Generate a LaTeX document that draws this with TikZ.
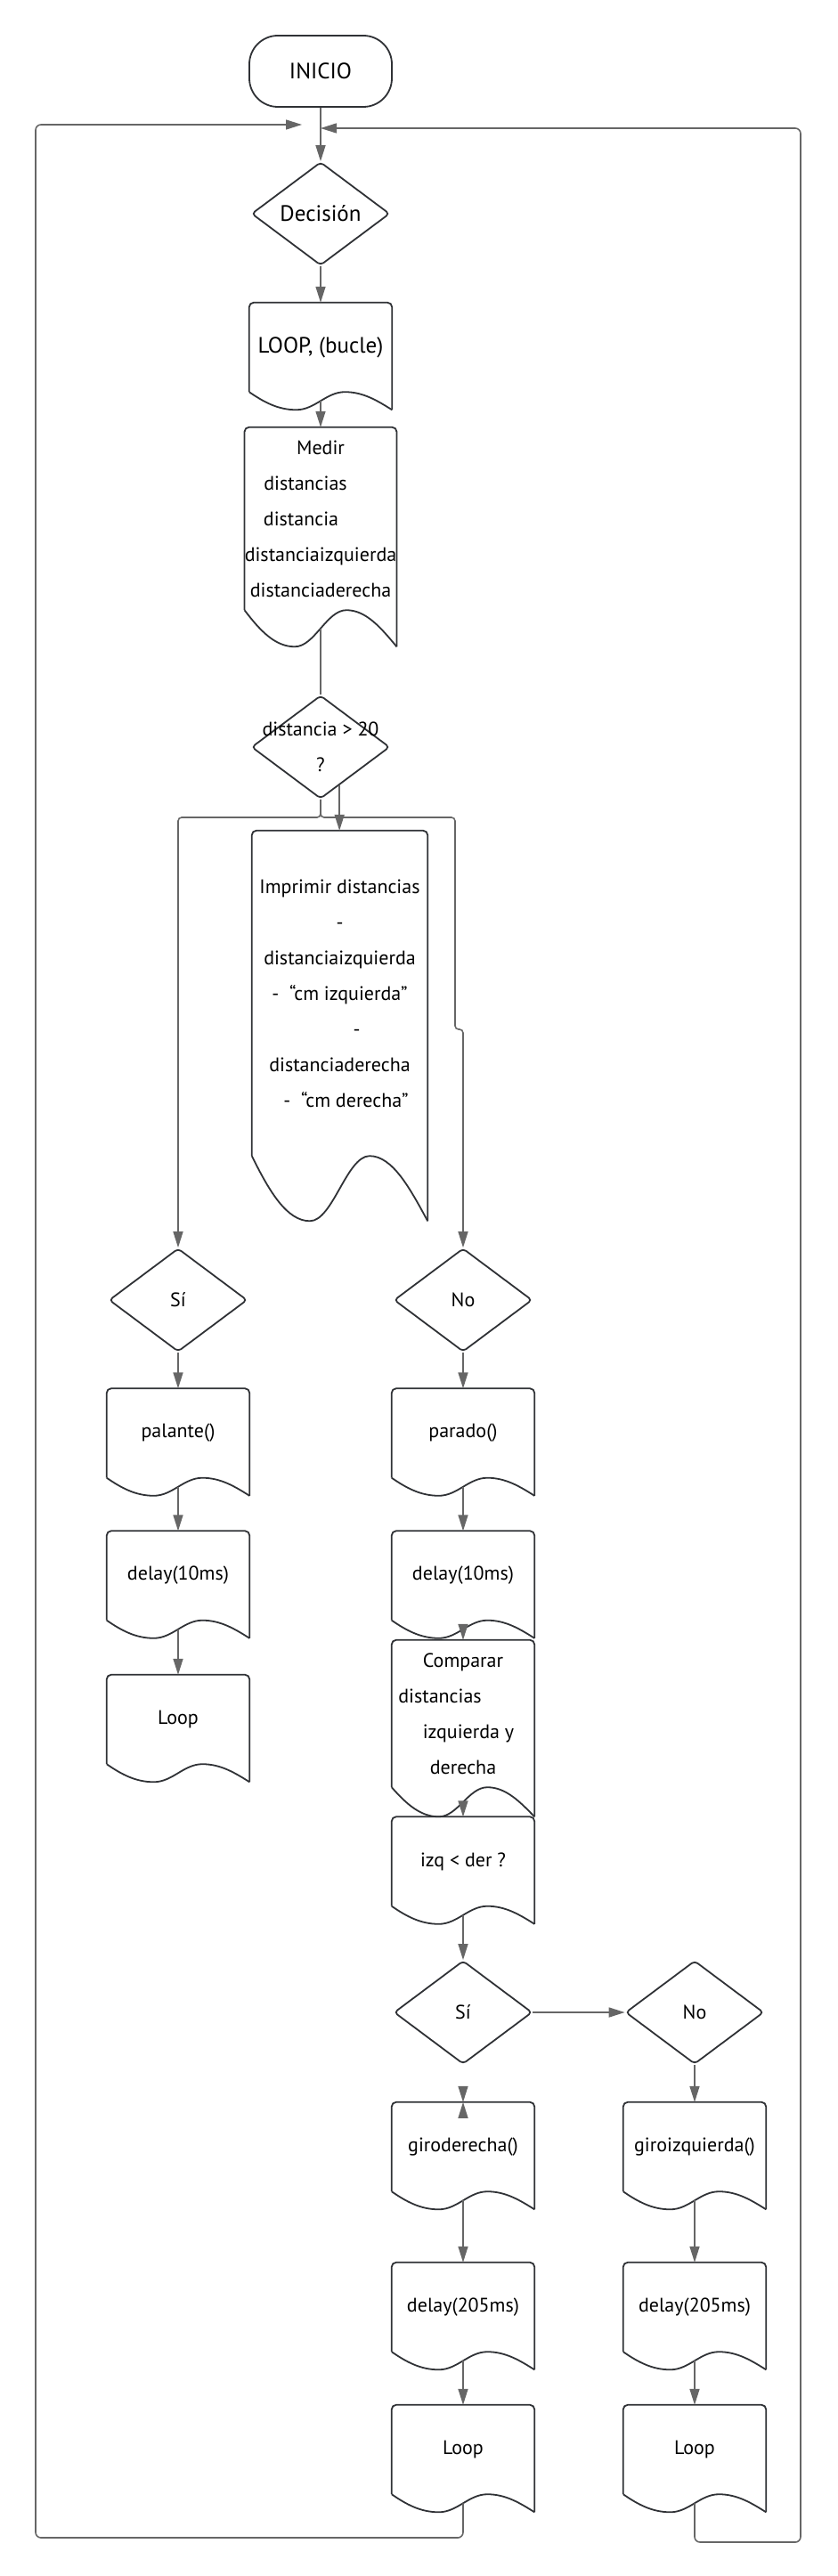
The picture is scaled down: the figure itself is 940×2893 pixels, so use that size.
\documentclass[tikz,border=0pt]{standalone}
\usepackage{fontspec}
\setmainfont{PT Sans}
\usepackage{tikz}
\usetikzlibrary{shapes.geometric, arrows.meta, calc}

\definecolor{linegray}{HTML}{666666}
\definecolor{shapegray}{HTML}{303236}

% document outline with a wavy bottom edge, plus (name-out) on the wave
\newcommand{\docshape}[1]{%
  \draw[outline, rounded corners=5pt] (#1.south west) -- (#1.north west)
      -- (#1.north east) -- ($(#1.south east)!-0.2!(#1.north east)$);
  \draw[outline] let \p1=(#1.north west), \p2=(#1.south east),
      \n1={0.2*(\y1-\y2)}, \n2={\x2-\x1} in
      (#1.south west)
      .. controls ({\x1+0.1*\n2},{\y2-0.55*\n1}) and ({\x1+0.2*\n2},{\y2-\n1}) .. ({\x1+0.33*\n2},{\y2-\n1})
      .. controls ({\x1+0.46*\n2},{\y2-\n1}) and ({\x1+0.54*\n2},{\y2}) .. ({\x1+0.67*\n2},{\y2})
      .. controls ({\x1+0.8*\n2},{\y2}) and ({\x1+0.9*\n2},{\y2-0.5*\n1}) .. ({\x2},{\y2-\n1})
      ({\x1+0.5*\n2},{\y2-0.5*\n1}) coordinate (#1-out);
}

\begin{document}
\begin{tikzpicture}[
    x=1pt, y=-1pt,
    font=\fontsize{22pt}{40pt}\selectfont,
    big/.style     = {font=\fontsize{25pt}{40pt}\selectfont},
    outline/.style = {draw=shapegray, line width=1.8pt},
    term/.style    = {outline, rounded corners=32pt, minimum width=160pt,
                      minimum height=80pt},
    dec/.style     = {outline, diamond, rounded corners=4pt, inner sep=0pt,
                      minimum width=155pt, minimum height=116pt},
    doc/.style     = {minimum width=160pt, minimum height=100pt,
                      inner sep=0pt, align=center},
    arr/.style     = {draw=linegray, line width=1.6pt,
                      -{Triangle[length=18pt,width=11pt]}},
    wire/.style    = {draw=linegray, line width=1.6pt}
]
\useasboundingbox (0,0) rectangle (940,2893);

% ---------------- main column ----------------
\node[term, big] (ini)   at (360,80)  {INICIO};
\node[dec, big]  (dec0)  at (360,240) {Decisión};
\node[doc, big]  (loop0) at (360,390) {LOOP, (bucle)};
\node[doc, minimum height=205pt] (medir) at (360,582.5)
    {Medir\\ \hbox{distancias\hspace{34pt}}\\ \hbox{distancia\hspace{44pt}}\\
     distanciaizquierda\\ distanciaderecha};
\node[dec, label={[align=center, inner sep=0pt]center:distancia > 20\\?}]
    (dist) at (360,839) {};
\node[doc, minimum width=197pt, minimum height=365pt] (impr) at (381.5,1115.5)
    {Imprimir distancias\\ -\\ distanciaizquierda\\ - \ “cm izquierda”\\
     \hbox{\hspace{38pt}-}\\ distanciaderecha\\ \hbox{\hspace{14pt}- \ “cm derecha”}};

% ---------------- distancia > 20 : Sí ----------------
\node[dec] (si1)     at (200,1460)   {Sí};
\node[doc] (palante) at (200,1609.5) {palante()};
\node[doc] (delayA)  at (200,1769.5) {delay(10ms)};
\node[doc] (loopA)   at (200,1931)   {Loop};

% ---------------- distancia > 20 : No ----------------
\node[dec] (no1)    at (520,1460)   {No};
\node[doc] (parado) at (520,1609.5) {parado()};
\node[doc] (delayB) at (520,1769.5) {delay(10ms)};
\node[doc, minimum height=165pt] (comparar) at (520,1924.5)
    {Comparar\\ \hbox{distancias\hspace{52pt}}\\ \hbox{\hspace{12pt}izquierda y}\\ derecha};
\node[doc] (izq)    at (520,2090.5) {izq < der ?};

% ---------------- izq < der ----------------
\node[dec] (si2)     at (520,2260) {Sí};
\node[dec] (no2)     at (780,2260) {No};
\node[doc] (giroder) at (520,2411) {giroderecha()};
\node[doc] (delayC)  at (520,2591) {delay(205ms)};
\node[doc] (loopC)   at (520,2751) {Loop};
\node[doc] (giroizq) at (780,2411) {giroizquierda()};
\node[doc] (delayD)  at (780,2591) {delay(205ms)};
\node[doc] (loopD)   at (780,2751) {Loop};

% document outlines
\foreach \d in {loop0,medir,impr,palante,delayA,loopA,parado,delayB,
                comparar,izq,giroder,delayC,loopC,giroizq,delayD,loopD}
    {\docshape{\d}}

% routing helper coordinates
\coordinate (split) at (360,918);
\coordinate (jog)   at (511,1156);
\coordinate (ddrop) at ($(dist.south)!0.27!(dist.east)$);
\coordinate (backL) at (40,2850);
\coordinate (joinL) at (339,140);
\coordinate (backR) at (899,2855);
\coordinate (joinR) at (360,144);

% ============= main flow =============
\draw[arr]  (ini.south)  -- (dec0.north);
\draw[arr]  (dec0.south) -- (loop0.north);
\draw[arr]  (loop0-out)  -- (medir.north);
\draw[wire] (medir-out)  -- (dist.north);

% distancia > 20 -> branches
\draw[arr, rounded corners=4pt] (dist.south) -- (split) -| (si1.north);
\draw[arr, rounded corners=4pt] (dist.south) -- (split) -| (jog) -| (no1.north);
\draw[arr] (ddrop) -- (ddrop |- impr.north);

% Sí branch
\draw[arr] (si1.south)  -- (palante.north);
\draw[arr] (palante-out) -- (delayA.north);
\draw[arr] (delayA-out)  -- (loopA.north);

% No branch
\draw[arr] (no1.south)    -- (parado.north);
\draw[arr] (parado-out)   -- (delayB.north);
\draw[arr] (delayB-out)   -- (comparar.north);
\draw[arr] (comparar-out) -- (izq.north);
\draw[arr] (izq-out)      -- (si2.north);

% izq < der
\draw[arr] (si2.east) -- (no2.west);
\draw[arr, shorten <=24pt] (si2.south) -- (giroder.north);
\draw[arr] ([yshift=-18pt]giroder.north) -- (giroder.north);
\draw[arr] (giroder-out) -- (delayC.north);
\draw[arr] (delayC-out)  -- (loopC.north);
\draw[arr] (no2.south)   -- (giroizq.north);
\draw[arr] (giroizq-out) -- (delayD.north);
\draw[arr] (delayD-out)  -- (loopD.north);

% ============= loop back =============
\draw[arr, rounded corners=6pt] (loopC-out) |- (backL) |- (joinL);
\draw[arr, rounded corners=6pt] (loopD-out) |- (backR) |- (joinR);

\end{tikzpicture}
\end{document}
